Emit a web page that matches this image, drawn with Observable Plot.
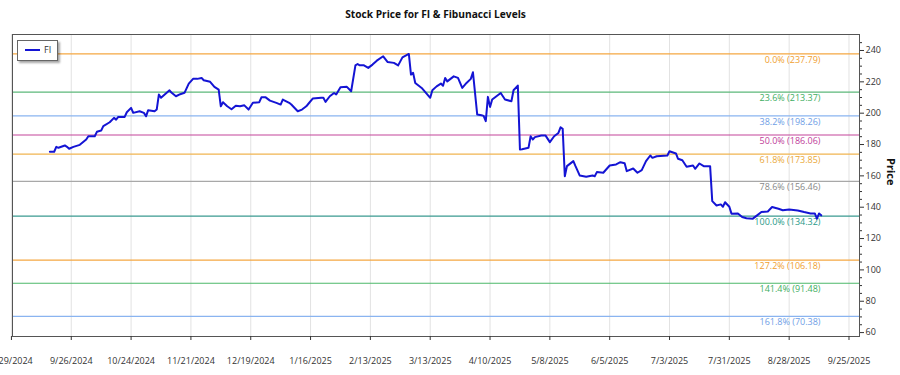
<!DOCTYPE html>
<html>
<head>
<meta charset="utf-8">
<script src="https://cdn.jsdelivr.net/npm/d3@7"></script>
<script src="https://cdn.jsdelivr.net/npm/@observablehq/plot@0.6"></script>
<style>
  body { margin: 0; background: #fff; font-family: "Open Sans", sans-serif; }
  #wrap { position: relative; width: 900px; height: 375px; }
  #title { height: 28px; line-height: 28px; width: 847px; margin-left: 12px; text-align: center; font-weight: bold; font-size: 10.2px; color: #111; }
  #legend { position: absolute; left: 17px; top: 40px; width: 39px; height: 19px; border: 1px solid #666; background: #fff; box-shadow: 2px 2px 2px rgba(0,0,0,0.35); font-size: 9px; color: #333; }
  #legend .sw { position: absolute; left: 7px; top: 8px; width: 15px; height: 2px; background: #1414d4; }
  #legend .lb { position: absolute; left: 26px; top: 2px; }
</style>
</head>
<body>
<div id="wrap">
  <div id="title">Stock Price for FI &amp; Fibunacci Levels</div>
  <div id="chart"></div>
  <div id="legend"><span class="sw"></span><span class="lb">FI</span></div>
</div>
<script>
const dates = [
"2024-09-16","2024-09-18","2024-09-19","2024-09-20","2024-09-23","2024-09-24","2024-09-25","2024-09-27","2024-09-30",
"2024-10-03","2024-10-04","2024-10-07","2024-10-08","2024-10-10","2024-10-11","2024-10-14","2024-10-16","2024-10-17","2024-10-18",
"2024-10-21","2024-10-22","2024-10-24","2024-10-25","2024-10-28","2024-10-30","2024-10-31",
"2024-11-01","2024-11-04","2024-11-05","2024-11-06","2024-11-07","2024-11-11","2024-11-12","2024-11-14","2024-11-16","2024-11-18",
"2024-11-20","2024-11-22","2024-11-24","2024-11-26","2024-11-27","2024-11-30",
"2024-12-02","2024-12-04","2024-12-05","2024-12-06","2024-12-08","2024-12-10","2024-12-12","2024-12-14","2024-12-16","2024-12-18",
"2024-12-20","2024-12-23","2024-12-24","2024-12-26","2024-12-28","2024-12-31",
"2025-01-02","2025-01-03","2025-01-06","2025-01-07","2025-01-10","2025-01-12","2025-01-14","2025-01-15","2025-01-17","2025-01-21",
"2025-01-22","2025-01-23","2025-01-25","2025-01-27","2025-01-28","2025-01-30",
"2025-02-02","2025-02-04","2025-02-06","2025-02-07","2025-02-08","2025-02-10","2025-02-12","2025-02-14","2025-02-16","2025-02-19",
"2025-02-21","2025-02-24","2025-02-26","2025-02-28",
"2025-03-03","2025-03-04","2025-03-05","2025-03-06","2025-03-09","2025-03-13","2025-03-14","2025-03-16","2025-03-18","2025-03-19",
"2025-03-20","2025-03-21","2025-03-24","2025-03-26","2025-03-28","2025-03-30",
"2025-04-01","2025-04-02","2025-04-04","2025-04-06","2025-04-07","2025-04-08","2025-04-09","2025-04-10","2025-04-11","2025-04-15",
"2025-04-17","2025-04-20","2025-04-21","2025-04-23","2025-04-24","2025-04-25","2025-04-28","2025-04-29","2025-04-30",
"2025-05-01","2025-05-04","2025-05-06","2025-05-08","2025-05-10","2025-05-12","2025-05-13","2025-05-14","2025-05-15","2025-05-16",
"2025-05-19","2025-05-20","2025-05-22","2025-05-25","2025-05-28","2025-05-29","2025-05-30",
"2025-06-02","2025-06-05","2025-06-08","2025-06-10","2025-06-12","2025-06-13","2025-06-16","2025-06-18","2025-06-20","2025-06-22",
"2025-06-24","2025-06-25","2025-06-27",
"2025-07-02","2025-07-03","2025-07-06","2025-07-07","2025-07-09","2025-07-11","2025-07-14","2025-07-15","2025-07-17","2025-07-19",
"2025-07-22","2025-07-23","2025-07-25","2025-07-27","2025-07-28","2025-07-29","2025-07-31",
"2025-08-01","2025-08-04","2025-08-06","2025-08-08","2025-08-11","2025-08-13","2025-08-15","2025-08-18","2025-08-20","2025-08-23",
"2025-08-25","2025-08-28",
"2025-09-01","2025-09-04","2025-09-07","2025-09-09","2025-09-10","2025-09-11","2025-09-12"
];
const prices = [
175.4,175.4,178.5,177.9,179.4,178.5,177.3,178.5,179.8,
183.2,185.3,185.3,188.1,188.9,191.7,194.2,197.0,195.9,197.6,
197.6,200.6,203.4,200.2,201.2,200.2,198.0,
201.9,201.2,202.3,211.9,209.8,214.6,213.0,210.8,212.1,213.0,
218.9,221.9,221.9,222.5,221.0,220.0,
216.8,215.0,204.4,207.0,204.4,202.5,204.8,204.4,205.0,202.3,
206.6,207.0,210.1,210.1,208.0,206.6,
205.5,208.7,206.6,205.5,201.2,202.3,204.4,206.0,209.3,209.8,
209.8,207.2,210.8,212.9,211.9,216.5,
216.8,214.0,230.5,231.4,230.5,230.5,228.9,231.0,233.5,236.3,
232.7,232.1,230.5,235.6,
237.8,224.6,225.7,219.3,216.1,209.8,214.6,217.1,218.9,217.5,
222.5,220.3,223.5,222.5,216.1,219.3,
221.9,226.1,199.1,198.7,198.3,194.9,210.4,204.0,208.7,212.9,
208.7,207.6,214.6,217.6,176.8,177.0,177.9,185.3,183.2,
184.7,185.7,185.7,181.5,185.3,187.4,191.0,190.0,159.8,166.2,
169.4,166.2,160.2,159.4,160.2,159.8,162.4,
162.0,166.6,167.3,168.7,168.0,163.0,164.7,162.0,163.7,169.4,
173.0,171.5,172.5,
173.0,175.7,174.3,170.9,170.0,165.8,166.6,164.5,167.9,166.2,
166.2,143.9,141.1,141.8,140.3,143.2,140.3,
135.9,136.0,133.7,132.9,132.7,134.8,136.9,137.3,140.1,139.0,
138.1,138.6,
137.9,136.9,136.0,136.0,132.7,136.0,134.8
];

const fibLabels = ["0.0%","23.6%","38.2%","50.0%","61.8%","78.6%","100.0%","127.2%","141.4%","161.8%"];
const fibValues = [237.79,213.37,198.26,186.06,173.85,156.46,134.32,106.18,91.48,70.38];
const fibColors = ["#f5a742","#5cb87a","#8ab4f0","#c4449a","#f0b450","#a8a8a8","#3a9a90","#f5a742","#4cb86a","#8ab4f0"];
const fibTextColors = ["#f0a030","#3fae62","#6f9ee6","#c0409a","#eaa838","#888888","#2a9a88","#f0a030","#3fae62","#6f9ee6"];

const xTickLabels = ["8/29/2024","9/26/2024","10/24/2024","11/21/2024","12/19/2024","1/16/2025","2/13/2025","3/13/2025","4/10/2025","5/8/2025","6/5/2025","7/3/2025","7/31/2025","8/28/2025","9/25/2025"];
const yTicks = [60,80,100,120,140,160,180,200,220,240];

const parseTick = d3.utcParse("%m/%d/%Y");
const tickDates = xTickLabels.map(parseTick);
const series = dates.map((d, i) => ({date: d3.utcParse("%Y-%m-%d")(d), price: prices[i]}));
const fib = fibLabels.map((l, i) => ({label: l, value: fibValues[i], color: fibColors[i], tcolor: fibTextColors[i]}));
const minorTicks = d3.range(60, 250, 5).filter(v => v % 20 !== 0);

const chart = Plot.plot({
  width: 900,
  height: 347,
  marginTop: 6,
  marginBottom: 39,
  marginLeft: 12,
  marginRight: 41,
  style: {fontFamily: "Open Sans, sans-serif", fontSize: "9px", color: "#333", background: "#fff"},
  x: {type: "utc", domain: [new Date(Date.UTC(2024, 7, 29, 12)), new Date(Date.UTC(2025, 8, 29, 22))]},
  y: {domain: [57.5, 250.2]},
  marks: [
    Plot.gridX(tickDates, {stroke: "#e2e2e2", strokeOpacity: 1}),
    Plot.ruleY(fib, {y: "value", stroke: "color", strokeWidth: 1.2}),
    Plot.text(fib, {y: "value", text: d => `${d.label} (${d.value.toFixed(2)})`, frameAnchor: "right", dx: -39, dy: 6, textAnchor: "end", fill: "tcolor", fontSize: 9}),
    Plot.line(series, {x: "date", y: "price", stroke: "#1414d4", strokeWidth: 2}),
    Plot.frame({stroke: "#555", strokeWidth: 1}),
    Plot.axisX(tickDates, {tickFormat: d3.utcFormat("%-m/%-d/%Y"), tickSize: 4, tickPadding: 17, label: null, stroke: "#333"}),
    Plot.axisY(yTicks, {anchor: "right", tickSize: 4, tickPadding: 2, label: null, stroke: "#333"}),
    Plot.axisY(minorTicks, {anchor: "right", tickSize: 2, tickFormat: () => "", label: null, stroke: "#333"}),
    Plot.text(["Price"], {frameAnchor: "right", dx: 31, rotate: 90, fontWeight: "bold", fontSize: 11, fill: "#111"})
  ]
});
document.getElementById("chart").appendChild(chart);
</script>
</body>
</html>
